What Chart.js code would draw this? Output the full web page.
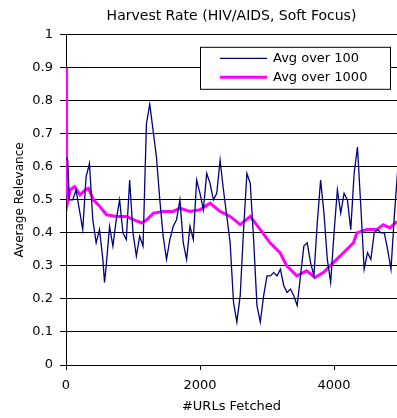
<!DOCTYPE html>
<html>
<head>
<meta charset="utf-8">
<script src="https://cdn.jsdelivr.net/npm/chart.js@4.4.0/dist/chart.umd.min.js"></script>
<style>
  body { margin: 0; background: #fff; }
  canvas { display: block; }
</style>
</head>
<body>
<canvas id="harvestChart" width="397" height="418"></canvas>
<script>
// Série "Avg over 100" (linha azul fina)
const avg100X = [0, 25, 50, 100, 150, 200, 250, 300, 350, 400, 450, 500, 550, 575, 600, 650, 700, 750, 800, 850,
  900, 950, 1000, 1050, 1100, 1150, 1200, 1250, 1300, 1350, 1400, 1450, 1500, 1550, 1600, 1650, 1700, 1750, 1800, 1850,
  1900, 1950, 2000, 2050, 2100, 2150, 2200, 2250, 2300, 2350, 2400, 2450, 2500, 2550, 2600, 2650, 2700, 2750, 2800, 2850,
  2900, 2950, 3000, 3050, 3100, 3150, 3200, 3250, 3300, 3350, 3400, 3450, 3500, 3550, 3600, 3650, 3700, 3750, 3800, 3850,
  3900, 3950, 4000, 4050, 4100, 4150, 4200, 4250, 4300, 4350, 4400, 4450, 4500, 4550, 4600, 4650, 4700, 4750, 4800, 4850,
  4900, 4950];
const avg100Y = [0.63, 0.62, 0.50, 0.50, 0.53, 0.47, 0.41, 0.57, 0.61, 0.44, 0.37, 0.41, 0.32, 0.25, 0.30, 0.42, 0.36, 0.44, 0.50, 0.40,
  0.38, 0.56, 0.40, 0.33, 0.39, 0.36, 0.73, 0.79, 0.71, 0.63, 0.50, 0.39, 0.32, 0.38, 0.42, 0.44, 0.50, 0.37, 0.32, 0.42,
  0.38, 0.56, 0.52, 0.47, 0.58, 0.55, 0.50, 0.52, 0.62, 0.53, 0.45, 0.37, 0.19, 0.13, 0.21, 0.41, 0.58, 0.55, 0.38, 0.18,
  0.13, 0.21, 0.27, 0.27, 0.28, 0.27, 0.29, 0.24, 0.22, 0.23, 0.21, 0.18, 0.27, 0.36, 0.37, 0.31, 0.27, 0.43, 0.56, 0.46,
  0.32, 0.25, 0.40, 0.53, 0.46, 0.52, 0.50, 0.41, 0.58, 0.66, 0.48, 0.29, 0.34, 0.32, 0.40, 0.41, 0.40, 0.40, 0.35, 0.29,
  0.45, 0.59];

// Série "Avg over 1000" (linha magenta grossa)
const avg1000X = [0, 8, 15, 30, 60, 130, 210, 285, 335, 410, 505, 605, 755, 905, 1005, 1130, 1205, 1305, 1455, 1600,
  1700, 1850, 2000, 2150, 2300, 2450, 2600, 2750, 2900, 3045, 3195, 3295, 3445, 3590, 3715, 3840, 3990, 4140, 4290, 4340,
  4490, 4640, 4735, 4835, 4940];
const avg1000Y = [0.90, 0.62, 0.55, 0.50, 0.53, 0.54, 0.515, 0.53, 0.535, 0.50, 0.48, 0.455, 0.45, 0.45, 0.44, 0.43, 0.44, 0.46, 0.465, 0.465,
  0.475, 0.465, 0.47, 0.49, 0.465, 0.45, 0.425, 0.45, 0.41, 0.37, 0.34, 0.30, 0.27, 0.285, 0.265, 0.28, 0.31, 0.34, 0.37, 0.40,
  0.41, 0.41, 0.425, 0.415, 0.435];

// Rótulos dos eixos
const xTickValues = [0, 2000, 4000];
const xTickLabels = ['0', '2000', '4000'];
const yTickValues = [0, 0.1, 0.2, 0.3, 0.4, 0.5, 0.6, 0.7, 0.8, 0.9, 1];
const yTickLabels = ['0', '0.1', '0.2', '0.3', '0.4', '0.5', '0.6', '0.7', '0.8', '0.9', '1'];

function toPoints(xs, ys) {
    return xs.map((x, i) => ({ x: x, y: ys[i] }));
}

// Legenda desenhada dentro da área do gráfico, como no Excel
const insideLegend = {
    id: 'insideLegend',
    afterDraw(chart) {
        const ctx = chart.ctx;
        const area = chart.chartArea;
        const w = 190, h = 42;
        const left = area.right - w - 7;
        const top = area.top + 12;
        ctx.save();
        ctx.fillStyle = '#fff';
        ctx.fillRect(left, top, w, h);
        ctx.strokeStyle = '#000';
        ctx.lineWidth = 1;
        ctx.strokeRect(left + 0.5, top + 0.5, w, h);
        ctx.font = '13px "DejaVu Sans", sans-serif';
        ctx.textBaseline = 'middle';
        chart.data.datasets.forEach((ds, i) => {
            const ly = top + 11.5 + i * 19;
            ctx.strokeStyle = ds.borderColor;
            ctx.lineWidth = ds.borderWidth;
            ctx.beginPath();
            ctx.moveTo(left + 20, ly);
            ctx.lineTo(left + 67, ly);
            ctx.stroke();
            ctx.fillStyle = '#000';
            ctx.fillText(ds.label, left + 73, ly);
        });
        ctx.restore();
    }
};

Chart.defaults.font.family = '"DejaVu Sans", sans-serif';
Chart.defaults.color = '#000';

new Chart(document.getElementById('harvestChart'), {
    type: 'line',
    data: {
        datasets: [{
            label: 'Avg over 100',
            data: toPoints(avg100X, avg100Y),
            borderColor: '#000080',
            borderWidth: 1.3,
            pointRadius: 0,
            tension: 0,
            fill: false
        }, {
            label: 'Avg over 1000',
            data: toPoints(avg1000X, avg1000Y),
            borderColor: '#ff00ff',
            borderWidth: 3,
            pointRadius: 0,
            tension: 0,
            fill: false
        }]
    },
    options: {
        responsive: false,
        animation: false,
        layout: { padding: 0 },
        scales: {
            x: {
                type: 'linear',
                min: 0,
                max: 4940,
                afterBuildTicks: s => { s.ticks = xTickValues.map(v => ({ value: v })); },
                afterFit: s => { s.height = 53; },
                ticks: {
                    callback: v => xTickLabels[xTickValues.indexOf(v)],
                    padding: 8,
                    maxRotation: 0,
                    font: { size: 13 }
                },
                grid: { drawOnChartArea: false, tickLength: 5, color: '#000' },
                border: { color: '#000' },
                title: {
                    display: true,
                    text: '#URLs Fetched',
                    font: { size: 13 },
                    padding: { top: 0, bottom: 4 }
                }
            },
            y: {
                min: 0,
                max: 1,
                afterBuildTicks: s => { s.ticks = yTickValues.map(v => ({ value: v })); },
                afterFit: s => { s.width = 66; },
                ticks: {
                    callback: v => yTickLabels[yTickValues.indexOf(v)],
                    padding: 7,
                    font: { size: 13 }
                },
                grid: { color: '#000', tickLength: 6 },
                border: { color: '#000' },
                title: {
                    display: true,
                    text: 'Average Relevance',
                    font: { size: 12 },
                    padding: { top: 13, bottom: 0 }
                }
            }
        },
        plugins: {
            legend: { display: false },
            tooltip: { enabled: false },
            title: {
                display: true,
                text: 'Harvest Rate (HIV/AIDS, Soft Focus)',
                font: { size: 14, weight: 'normal' },
                padding: { top: 8, bottom: 10 },
                fullSize: false
            }
        }
    },
    plugins: [insideLegend]
});
</script>
</body>
</html>
